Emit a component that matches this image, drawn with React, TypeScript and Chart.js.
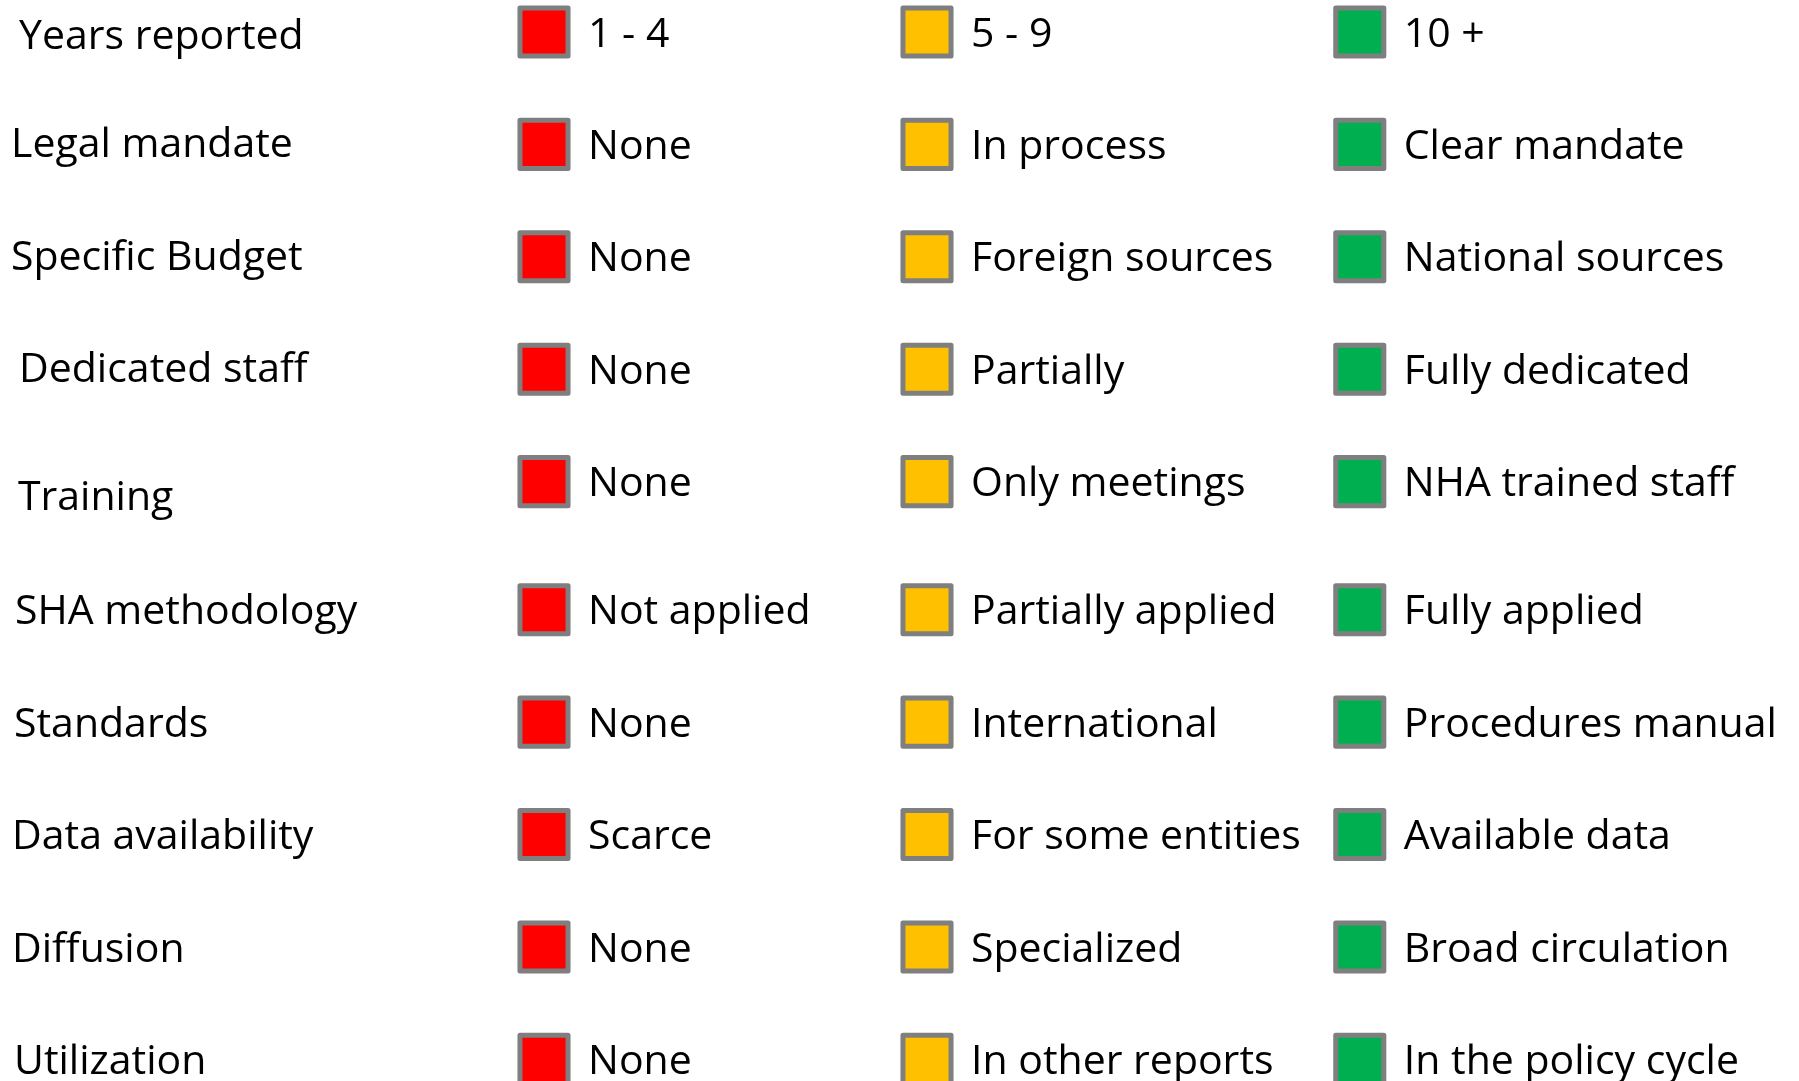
import React, { useEffect, useRef } from "react";
import { Chart, registerables } from "chart.js";

Chart.register(...registerables);

// ---- data ----
const rowLabels = [
  "Years reported",
  "Legal mandate",
  "Specific Budget",
  "Dedicated staff",
  "Training",
  "SHA methodology",
  "Standards",
  "Data availability",
  "Diffusion",
  "Utilization",
];
const levels = ["Low", "Medium", "High"];
const lowLabels = ["1 - 4", "None", "None", "None", "None", "Not applied", "None", "Scarce", "None", "None"];
const midLabels = [
  "5 - 9",
  "In process",
  "Foreign sources",
  "Partially",
  "Only meetings",
  "Partially applied",
  "International",
  "For some entities",
  "Specialized",
  "In other reports",
];
const highLabels = [
  "10 +",
  "Clear mandate",
  "National sources",
  "Fully dedicated",
  "NHA trained staff",
  "Fully applied",
  "Procedures manual",
  "Available data",
  "Broad circulation",
  "In the policy cycle",
];

// ---- layout / style ----
const columnPos = [0, 1, 2.13];
const rowPos = [0, 1, 2, 3, 4, 5.14, 6.14, 7.14, 8.14, 9.14];
const levelColors = ["#FF0000", "#FFC000", "#00B050"];
const borderColor = "#7F7F7F";
const labelIndent = [19, 11, 11, 19, 18, 15, 14, 12, 12, 14];
const labelShift = [2, -2, -1, -2, 14, 0, 0, 0, 0, 0];
const FONT = "41px 'Open Sans'";
const CAP_HALF = 14.6;
const TEXT_GAP = 44;

const cellLabels = [lowLabels, midLabels, highLabels];

const textPlugin = {
  id: "tableText",
  beforeDatasetsDraw(chart: any) {
    chart.ctx.lineJoin = "round";
  },
  afterDatasetsDraw(chart: any) {
    const { ctx, scales } = chart;
    const x = scales.x;
    const y = scales.y;
    ctx.save();
    ctx.font = FONT;
    ctx.fillStyle = "#000000";
    ctx.textAlign = "left";
    ctx.textBaseline = "alphabetic";
    rowLabels.forEach((lab, i) => {
      const py = y.getPixelForValue(rowPos[i]);
      ctx.fillText(lab, labelIndent[i], py + CAP_HALF + labelShift[i]);
    });
    cellLabels.forEach((arr, k) => {
      const px = x.getPixelForValue(columnPos[k]);
      arr.forEach((t, i) => {
        const py = y.getPixelForValue(rowPos[i]);
        ctx.fillText(t, px + TEXT_GAP, py + CAP_HALF);
      });
    });
    ctx.restore();
  },
};

export default function App() {
  const ref = useRef<HTMLCanvasElement | null>(null);
  useEffect(() => {
    document.body.style.margin = "0";
    if (!ref.current) return;
    const chart = new Chart(ref.current, {
      type: "scatter",
      data: {
        datasets: levels.map((lv, k) => ({
          label: lv,
          data: rowLabels.map((_, i) => ({ x: columnPos[k], y: rowPos[i] })),
          pointStyle: "rect",
          pointRadius: 34,
          pointHoverRadius: 34,
          pointBackgroundColor: levelColors[k],
          pointBorderColor: borderColor,
          pointBorderWidth: 5,
          pointHoverBorderWidth: 5,
          clip: false as any,
        })),
      },
      options: {
        animation: false,
        responsive: true,
        maintainAspectRatio: false,
        layout: { padding: 0, autoPadding: false },
        events: [],
        plugins: {
          legend: { display: false },
          tooltip: { enabled: false },
        },
        scales: {
          x: { type: "linear", display: false, min: -1.4204, max: 3.2768 },
          y: { type: "linear", display: false, reverse: true, min: -0.2847, max: 9.3327 },
        },
      },
      plugins: [textPlugin],
    });
    (document as any).fonts?.ready?.then(() => chart.update());
    return () => chart.destroy();
  }, []);
  return (
    <div style={{ position: "absolute", left: 0, top: 0, width: 1799, height: 1081, background: "#fff" }}>
      <canvas ref={ref} />
    </div>
  );
}
